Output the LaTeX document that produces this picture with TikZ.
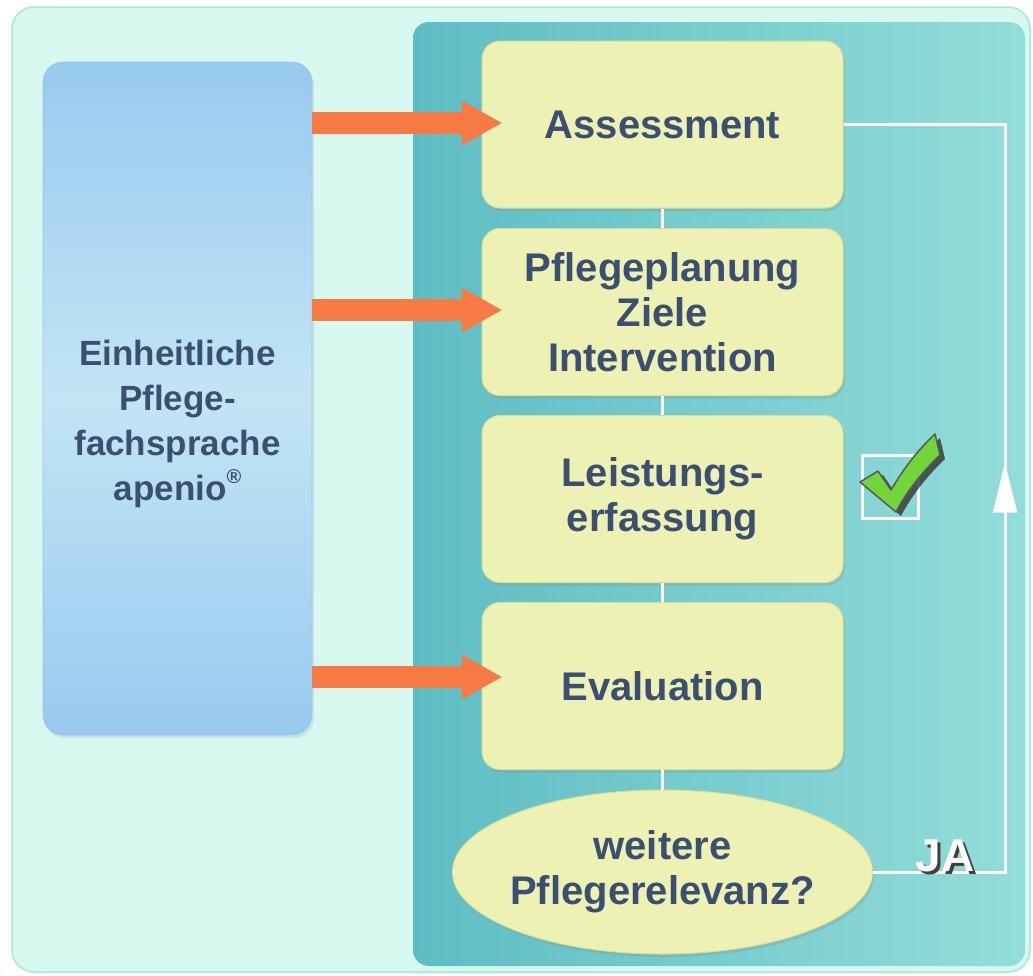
\documentclass[tikz,border=0pt]{standalone}
\usepackage{fontspec}
\setmainfont{Liberation Sans}
\usetikzlibrary{shapes.geometric,arrows.meta,shadows,calc,decorations.markings}
\definecolor{mint}{HTML}{D7F8EF}
\definecolor{mintborder}{HTML}{A3EAD6}
\definecolor{blueA}{HTML}{98CAEF}
\definecolor{blueB}{HTML}{C2E5F5}
\definecolor{tealA}{HTML}{5EBDC4}
\definecolor{tealB}{HTML}{93DDD9}
\definecolor{yfill}{HTML}{EDF1B3}
\definecolor{yborder}{HTML}{DCDF90}
\definecolor{txt}{HTML}{3A4F72}
\definecolor{arroworange}{HTML}{F77A44}
\definecolor{checkgreen}{HTML}{72D63A}
\begin{document}
\begin{tikzpicture}[x=1pt,y=-1pt,
  stepbox/.style={draw=yborder, line width=1pt, fill=yfill, rounded corners=18pt,
    minimum width=361pt, minimum height=167pt, text width=340pt, align=center,
    font=\fontsize{40}{45}\selectfont\bfseries, text=txt,
    drop shadow={opacity=0.22,shadow xshift=2pt,shadow yshift=-3pt}},
  questbox/.style={draw=yborder, line width=1pt, fill=yfill, ellipse,
    minimum width=420pt, minimum height=164pt, inner sep=0pt,
    drop shadow={opacity=0.22,shadow xshift=2pt,shadow yshift=-3pt}},
  steptext/.style={align=center, font=\fontsize{40}{45}\selectfont\bfseries, text=txt},
  bigarrow/.style={draw=arroworange, line width=22pt, -{Triangle[width=42pt,length=41pt]}},
  wline/.style={draw=white, line width=3pt},
  jatext/.style={font=\fontsize{46}{46}\selectfont\bfseries}
]
\useasboundingbox (0,0) rectangle (1033,975);
\fill[white] (0,0) rectangle (1033,975);
% outer panel
\draw[fill=mint, draw=mintborder, line width=1.5pt, rounded corners=22pt] (12,7) rectangle (1030,972);
% teal panel
\shade[left color=tealA, right color=tealB, rounded corners=16pt] (413,22) rectangle (1025,966);
% blue box
\node[draw=blueA!80!blue!70, line width=0.6pt, top color=blueA, bottom color=blueA, middle color=blueB,
  rounded corners=20pt, minimum width=269pt, minimum height=673pt,
  drop shadow={opacity=0.15,shadow xshift=2pt,shadow yshift=-3pt}] (blue) at (177.5,398.5) {};
\node[align=center, text=txt, font=\fontsize{35}{45}\selectfont\bfseries] (lefttext) at (177.5,424)
  {Einheitliche\\Pflege-\\fachsprache\\apenio\raisebox{0.5em}{\fontsize{20}{20}\selectfont ®}};
% steps
\node[stepbox] (ass) at (662.5,124.5) {Assessment};
\node[stepbox] (plan) at (662.5,312) {Pflegeplanung\\Ziele\\Intervention};
\node[stepbox] (leist) at (662.5,499) {Leistungs-\\erfassung};
\node[stepbox] (eval) at (662.5,686) {Evaluation};
\node[questbox] (q) at (662.5,872) {};
\node[steptext] (qtext) at (q.center) {weitere\\Pflegerelevanz?};
% connectors
\draw[wline] (ass.south) -- (plan.north);
\draw[wline] (plan.south) -- (leist.north);
\draw[wline] (leist.south) -- (eval.north);
\draw[wline] (eval.south) -- (q.north);
\coordinate (loopc) at (1005,124.5);
\draw[wline, postaction={decorate}, decoration={markings,
    mark=at position 0.52 with {\arrow[white]{Triangle[width=24pt,length=50pt]}}}]
  (q.east) -| (loopc) -- (ass.east);
% orange arrows
\draw[bigarrow] (blue.east |- 0,123) -- ($(ass.west |- 0,123)+(21,0)$);
\draw[bigarrow] (blue.east |- 0,310) -- ($(plan.west |- 0,310)+(21,0)$);
\draw[bigarrow] (blue.east |- 0,677) -- ($(eval.west |- 0,677)+(21,0)$);
% check box
\draw[white, line width=3pt] (862,455) rectangle (918,518);
\fill[black!80, opacity=0.8] (865,486) -- (883,475) -- (896,494) .. controls (910,470) and (925,452) .. (940,438)
  -- (945,459) .. controls (928,475) and (912,495) .. (901,516) -- cycle;
\draw[fill=checkgreen, draw=black!65, line width=1.5pt, line join=round]
  (860,482) -- (878,471) -- (891,490) .. controls (905,466) and (920,448) .. (935,434)
  -- (940,455) .. controls (923,471) and (907,491) .. (896,512) -- cycle;
% JA
\node[jatext, text=white] (ja) at (945,857)
  {\rlap{\hspace{3pt}\raisebox{-3pt}{\color{black!75}JA}}JA};
\end{tikzpicture}
\end{document}
